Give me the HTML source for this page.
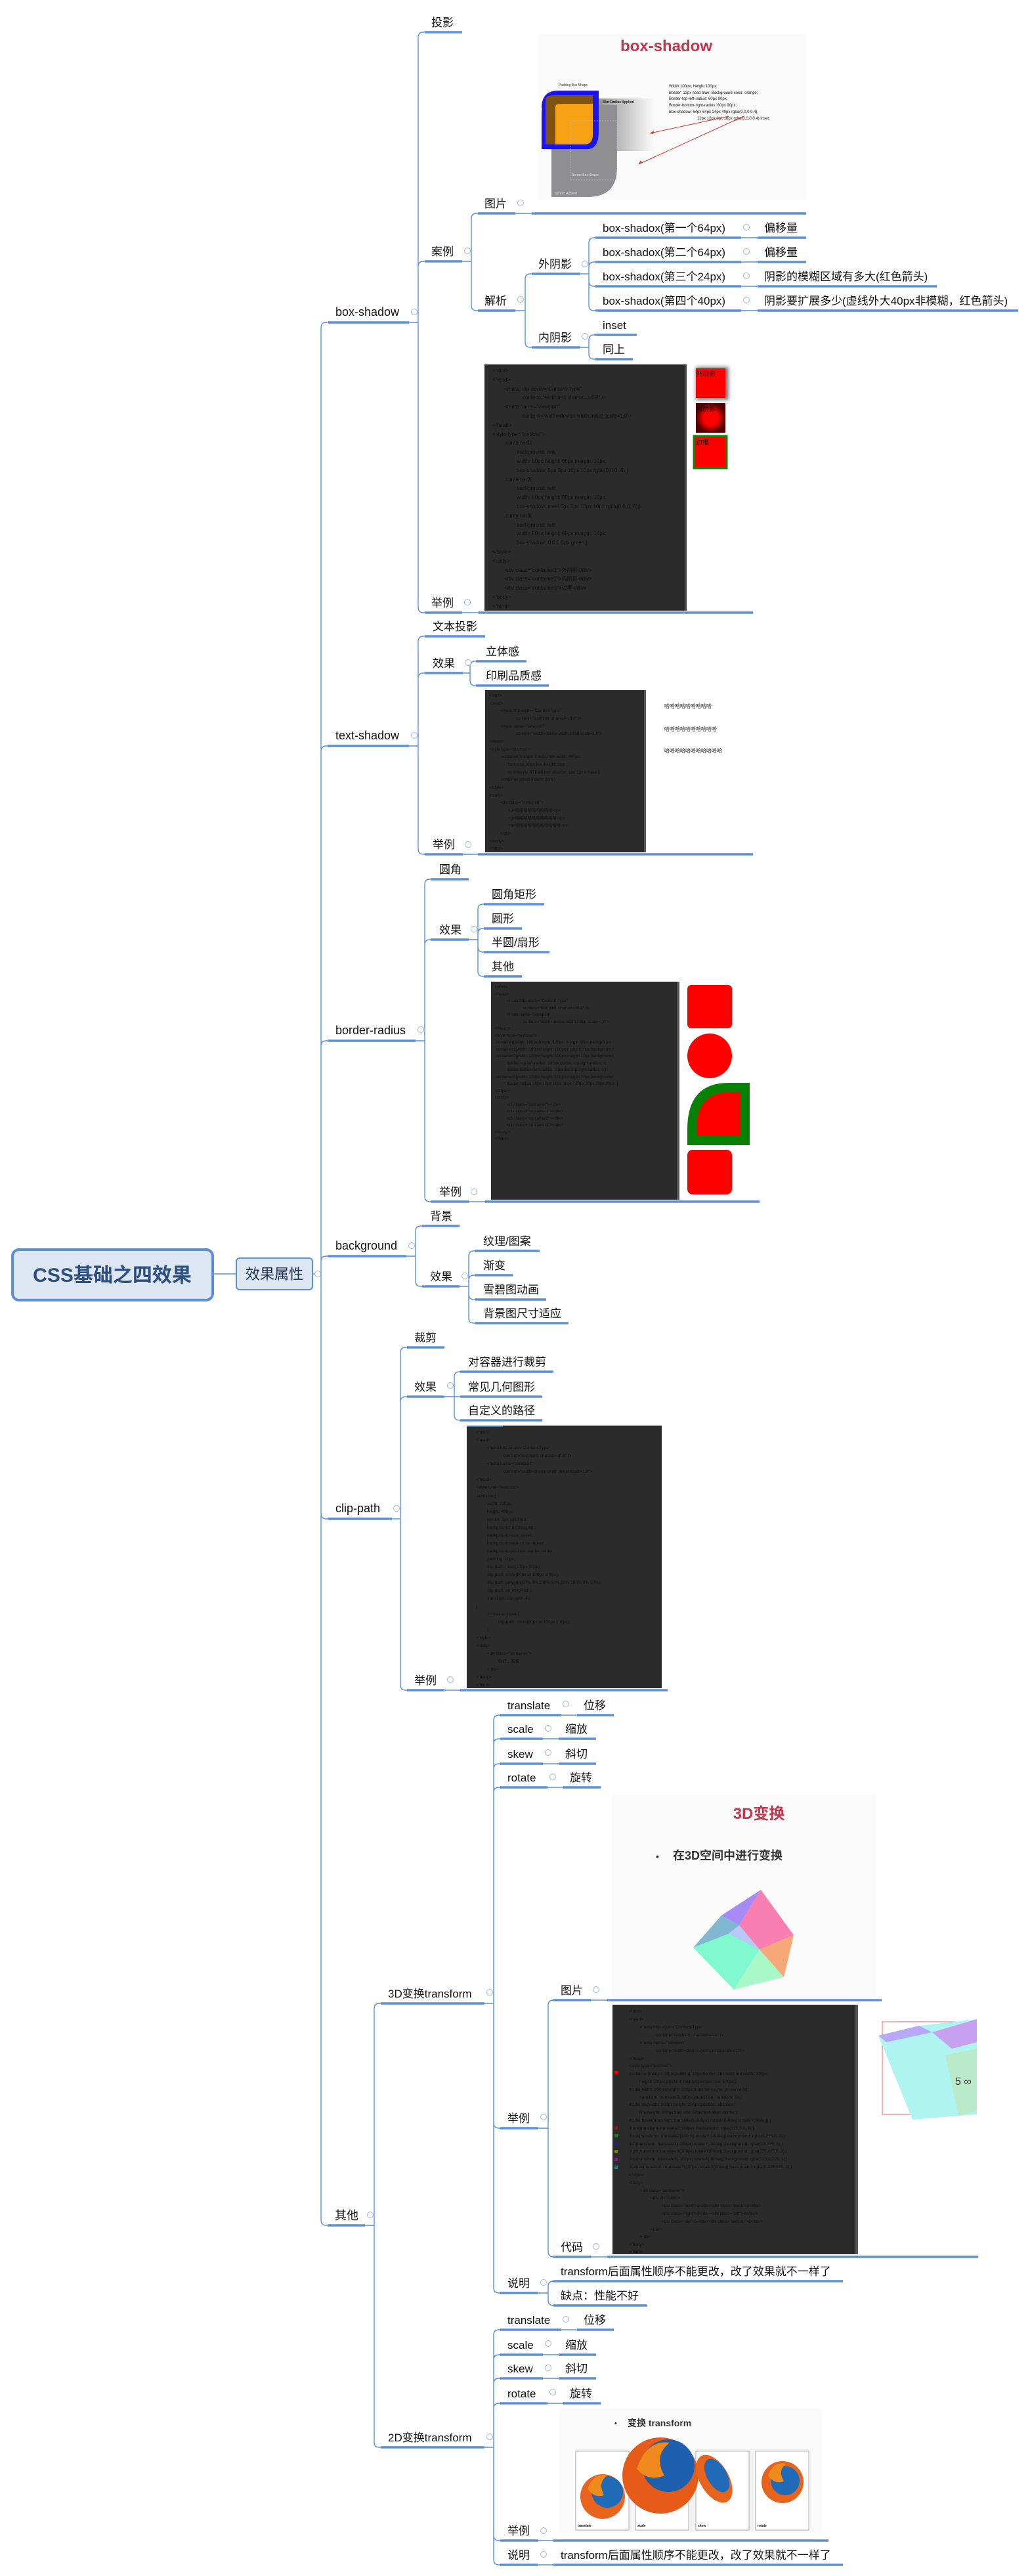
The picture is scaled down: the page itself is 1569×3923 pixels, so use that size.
<!DOCTYPE html>
<html><head><meta charset="utf-8">
<style>
html,body{margin:0;padding:0;background:#fff;}
svg{display:block;}
text{font-family:"Liberation Sans","Noto Sans CJK SC",sans-serif;fill:#111;}
.n{font-size:17px;}
.m{font-size:18px;}
.c{font-family:"Liberation Mono","Noto Sans CJK SC",monospace;fill:#b9ae8c;}
.ul{stroke:#5b8fd6;stroke-width:3.5;fill:none;}
.cn{stroke:#5b8fd6;stroke-width:1.4;fill:none;}
.ic{fill:#fff;stroke:#9db6df;stroke-width:1;}
</style></head>
<body>
<svg width="1569" height="3923" viewBox="0 0 1569 3923" xmlns="http://www.w3.org/2000/svg">

<!-- ROOT -->
<rect x="19" y="1903" width="305" height="77" rx="10" fill="#dde6f3" stroke="#5b8fd6" stroke-width="4"/>
<text x="171" y="1952" text-anchor="middle" style="font-size:30px;font-weight:bold;fill:#2d4f7f">CSS基础之四效果</text>
<rect x="360" y="1916" width="116" height="48" rx="5" fill="#dde6f3" stroke="#5b8fd6" stroke-width="2"/>
<text x="418" y="1948" text-anchor="middle" style="font-size:22px;fill:#1d2f4f">效果属性</text>

<!-- CONNECTORS -->
<g class="cn">
<path d="M325 1940H360M476 1940H489"/>
<!-- main -->
<path d="M489 1940V499Q489 491 497 491H499M489 1940V1144Q489 1136 497 1136H499M489 1940V1593Q489 1585 497 1585H499M489 1940V1921Q489 1913 497 1913H499M489 1940V2305Q489 2313 497 2313H499M489 1940V3381Q489 3389 497 3389H499"/>
<!-- box-shadow -->
<path d="M623 491H637V57Q637 49 645 49H647M637 491V406Q637 398 645 398H647M637 491V925Q637 933 645 933H647"/>
<path d="M704 398H718V333Q718 325 726 325H728M718 398V465Q718 473 726 473H728"/>
<path d="M785 473H800V425Q800 417 808 417H810M800 473V521Q800 529 808 529H810"/>
<path d="M884 417H897V370Q897 362 905 362H907M897 417V407Q897 399 905 399H907M897 417V428Q897 436 905 436H907M897 417V465Q897 473 905 473H907"/>
<path d="M884 529H897V518Q897 510 905 510H907M897 529V539Q897 547 905 547H907"/>
<path d="M1129 362H1154M1129 399H1154M1129 436H1154M1129 473H1154M785 325H810M704 933H729"/>
<!-- text-shadow -->
<path d="M623 1136H637V977Q637 969 645 969H647M637 1136V1033Q637 1025 645 1025H647M637 1136V1293Q637 1301 645 1301H647"/>
<path d="M705 1025H716V1015Q716 1007 724 1007H725M716 1025V1036Q716 1044 724 1044H725M705 1301H728"/>
<!-- border-radius -->
<path d="M633 1585H647V1347Q647 1339 655 1339H656M647 1585V1439Q647 1431 655 1431H656M647 1585V1822Q647 1830 655 1830H656"/>
<path d="M714 1431H728V1385Q728 1377 736 1377H737M728 1431V1422Q728 1414 736 1414H737M728 1431V1442Q728 1450 736 1450H737M728 1431V1479Q728 1487 736 1487H737M714 1830H739"/>
<!-- background -->
<path d="M619 1913H633V1875Q633 1867 641 1867H643M633 1913V1951Q633 1959 641 1959H643"/>
<path d="M700 1959H714V1913Q714 1905 722 1905H724M714 1959V1950Q714 1942 722 1942H724M714 1959V1971Q714 1979 722 1979H724M714 1959V2007Q714 2015 722 2015H724"/>
<!-- clip-path -->
<path d="M597 2313H610V2060Q610 2052 618 2052H620M610 2313V2135Q610 2127 618 2127H620M610 2313V2566Q610 2574 618 2574H620"/>
<path d="M677 2127H692V2097Q692 2089 700 2089H701M677 2127H701M692 2127V2155Q692 2163 700 2163H701M677 2574H701"/>
<!-- 其他 -->
<path d="M556 3389H570V3059Q570 3051 578 3051H580M570 3389V3719Q570 3727 578 3727H580"/>
<path d="M738 3051H752V2620Q752 2612 760 2612H762M752 3051V2656Q752 2648 760 2648H762M752 3051V2694Q752 2686 760 2686H762M752 3051V2730Q752 2722 760 2722H762M752 3051V3233Q752 3241 760 3241H762M752 3051V3484Q752 3492 760 3492H762"/>
<path d="M855 2612H879M827 2648H851M827 2686H851M834 2722H858"/>
<path d="M820 3241H835V3054Q835 3046 843 3046M835 3241V3429Q835 3437 843 3437M900 3046H925M900 3437H925"/>
<path d="M820 3492H835V3482Q835 3474 843 3474M835 3492V3503Q835 3511 843 3511"/>
<path d="M738 3727H752V3556Q752 3548 760 3548H762M752 3727V3594Q752 3586 760 3586H762M752 3727V3630Q752 3622 760 3622H762M752 3727V3668Q752 3660 760 3660H762M752 3727V3861Q752 3869 760 3869H762M752 3727V3898Q752 3906 760 3906H762"/>
<path d="M855 3548H879M827 3586H851M827 3622H851M834 3660H858M820 3869H843M820 3906H843"/>
</g>

<!-- UNDERLINES -->
<g class="ul">
<path d="M500 491H623M647 49H704M647 398H704M647 933H704M729 933H1147M728 325H785M810 325H1228M728 473H785M810 417H884M810 529H884"/>
<path d="M907 362H1129M907 399H1129M907 436H1129M907 473H1129M1154 362H1228M1154 399H1228M1154 436H1427M1154 473H1551M907 510H970M907 547H964"/>
<path d="M499 1136H623M647 969H739M647 1025H705M725 1007H802M725 1044H836M647 1301H705M728 1301H1147"/>
<path d="M499 1585H633M656 1339H714M656 1431H714M737 1377H829M737 1414H795M737 1450H837M737 1487H795M656 1830H714M739 1830H1157"/>
<path d="M499 1913H619M643 1867H700M643 1959H700M724 1905H822M724 1942H781M724 1979H832M724 2015H866"/>
<path d="M499 2313H597M620 2052H677M620 2127H677M620 2574H677M701 2574H1017M701 2089H843M701 2127H826M701 2163H826"/>
<path d="M499 3389H556M580 3051H738M580 3727H738"/>
<path d="M762 2612H855M879 2612H935M762 2648H827M851 2648H908M762 2686H827M851 2686H908M762 2722H834M858 2722H915"/>
<path d="M762 3241H820M843 3046H900M925 3046H1343M843 3437H900M925 3437H1490M762 3492H820M843 3474H1284M843 3511H986"/>
<path d="M762 3548H855M879 3548H935M762 3586H827M851 3586H908M762 3622H827M851 3622H908M762 3660H834M858 3660H915M762 3869H820M843 3869H1262M762 3906H820M843 3906H1284"/>
</g>

<!-- COLLAPSE ICONS -->
<g class="ic">
<circle cx="484" cy="1940" r="4.5"/><circle cx="631" cy="475" r="4.5"/><circle cx="712" cy="382" r="4.5"/><circle cx="793" cy="309" r="4.5"/><circle cx="793" cy="456" r="4.5"/><circle cx="891" cy="402" r="4.5"/><circle cx="891" cy="512" r="4.5"/>
<circle cx="1137" cy="346" r="4.5"/><circle cx="1137" cy="383" r="4.5"/><circle cx="1137" cy="420" r="4.5"/><circle cx="1137" cy="457" r="4.5"/><circle cx="712" cy="917" r="4.5"/>
<circle cx="631" cy="1120" r="4.5"/><circle cx="713" cy="1009" r="4.5"/><circle cx="713" cy="1286" r="4.5"/>
<circle cx="641" cy="1568" r="4.5"/><circle cx="722" cy="1415" r="4.5"/><circle cx="722" cy="1815" r="4.5"/>
<circle cx="627" cy="1897" r="4.5"/><circle cx="708" cy="1943" r="4.5"/>
<circle cx="604" cy="2297" r="4.5"/><circle cx="686" cy="2110" r="4.5"/><circle cx="686" cy="2558" r="4.5"/>
<circle cx="564" cy="3373" r="4.5"/><circle cx="746" cy="3034" r="4.5"/><circle cx="862" cy="2595" r="4.5"/><circle cx="835" cy="2632" r="4.5"/><circle cx="835" cy="2669" r="4.5"/><circle cx="842" cy="2706" r="4.5"/>
<circle cx="908" cy="3030" r="4.5"/><circle cx="828" cy="3224" r="4.5"/><circle cx="908" cy="3421" r="4.5"/><circle cx="828" cy="3476" r="4.5"/>
<circle cx="746" cy="3711" r="4.5"/><circle cx="862" cy="3532" r="4.5"/><circle cx="835" cy="3569" r="4.5"/><circle cx="835" cy="3606" r="4.5"/><circle cx="842" cy="3643" r="4.5"/><circle cx="828" cy="3854" r="4.5"/><circle cx="828" cy="3890" r="4.5"/>
</g>

<!-- LABELS -->
<text class="m" x="511" y="481">box-shadow</text>
<text class="n" x="657" y="40">投影</text>
<text class="n" x="657" y="389">案例</text>
<text class="n" x="657" y="924">举例</text>
<text class="n" x="738" y="316">图片</text>
<text class="n" x="738" y="464">解析</text>
<text class="n" x="820" y="408">外阴影</text>
<text class="n" x="820" y="520">内阴影</text>
<text class="n" x="918" y="353">box-shadox(第一个64px)</text>
<text class="n" x="918" y="390">box-shadox(第二个64px)</text>
<text class="n" x="918" y="427">box-shadox(第三个24px)</text>
<text class="n" x="918" y="464">box-shadox(第四个40px)</text>
<text class="n" x="1164" y="353">偏移量</text>
<text class="n" x="1164" y="390">偏移量</text>
<text class="n" x="1164" y="427">阴影的模糊区域有多大(红色箭头)</text>
<text class="n" x="1164" y="464">阴影要扩展多少(虚线外大40px非模糊，红色箭头)</text>
<text class="n" x="918" y="501">inset</text>
<text class="n" x="918" y="538">同上</text>

<text class="m" x="511" y="1126">text-shadow</text>
<text class="n" x="659" y="960">文本投影</text>
<text class="n" x="659" y="1016">效果</text>
<text class="n" x="740" y="998">立体感</text>
<text class="n" x="740" y="1035">印刷品质感</text>
<text class="n" x="659" y="1292">举例</text>

<text class="m" x="511" y="1575">border-radius</text>
<text class="n" x="669" y="1330">圆角</text>
<text class="n" x="669" y="1422">效果</text>
<text class="n" x="749" y="1368">圆角矩形</text>
<text class="n" x="749" y="1405">圆形</text>
<text class="n" x="749" y="1441">半圆/扇形</text>
<text class="n" x="749" y="1478">其他</text>
<text class="n" x="669" y="1821">举例</text>

<text class="m" x="511" y="1903">background</text>
<text class="n" x="655" y="1858">背景</text>
<text class="n" x="655" y="1950">效果</text>
<text class="n" x="736" y="1896">纹理/图案</text>
<text class="n" x="736" y="1933">渐变</text>
<text class="n" x="736" y="1970">雪碧图动画</text>
<text class="n" x="736" y="2006">背景图尺寸适应</text>

<text class="m" x="511" y="2303">clip-path</text>
<text class="n" x="631" y="2043">裁剪</text>
<text class="n" x="631" y="2118">效果</text>
<text class="n" x="713" y="2080">对容器进行裁剪</text>
<text class="n" x="713" y="2118">常见几何图形</text>
<text class="n" x="713" y="2154">自定义的路径</text>
<text class="n" x="631" y="2565">举例</text>

<text class="m" x="510" y="3380">其他</text>
<text class="n" x="591" y="3042">3D变换transform</text>
<text class="n" x="773" y="2603">translate</text><text class="n" x="889" y="2603">位移</text>
<text class="n" x="773" y="2639">scale</text><text class="n" x="861" y="2639">缩放</text>
<text class="n" x="773" y="2677">skew</text><text class="n" x="861" y="2677">斜切</text>
<text class="n" x="773" y="2713">rotate</text><text class="n" x="868" y="2713">旋转</text>
<text class="n" x="773" y="3232">举例</text>
<text class="n" x="854" y="3037">图片</text>
<text class="n" x="854" y="3428">代码</text>
<text class="n" x="773" y="3483">说明</text>
<text class="n" x="854" y="3465">transform后面属性顺序不能更改，改了效果就不一样了</text>
<text class="n" x="854" y="3502">缺点：性能不好</text>
<text class="n" x="591" y="3718">2D变换transform</text>
<text class="n" x="773" y="3539">translate</text><text class="n" x="889" y="3539">位移</text>
<text class="n" x="773" y="3577">scale</text><text class="n" x="861" y="3577">缩放</text>
<text class="n" x="773" y="3613">skew</text><text class="n" x="861" y="3613">斜切</text>
<text class="n" x="773" y="3651">rotate</text><text class="n" x="868" y="3651">旋转</text>
<text class="n" x="773" y="3860">举例</text>
<text class="n" x="773" y="3897">说明</text>
<text class="n" x="854" y="3897">transform后面属性顺序不能更改，改了效果就不一样了</text>

<!-- BOX-SHADOW IMAGE -->
<rect x="820" y="52" width="408" height="252" fill="#fafafa"/>
<text x="1015" y="78" text-anchor="middle" style="font-size:24px;font-weight:bold;fill:#c0384e">box-shadow</text>
<defs><linearGradient id="bl" x1="0" x2="1"><stop offset="0" stop-color="#8e8e8e"/><stop offset="1" stop-color="#fafafa"/></linearGradient></defs>
<rect x="905" y="150" width="91" height="80" fill="url(#bl)"/>
<path d="M840 160H940V255Q940 300 895 300H840Z" fill="#8f8e90"/>
<path d="M837 150Q825 150 825 175V227H895Q912 227 912 200V138H850Q825 138 825 165Z" fill="#1c14f0"/>
<path d="M831 152Q831 145 845 145H903V205Q903 220 890 220H831Z" fill="#7e5210"/>
<path d="M846 162Q846 158 858 158H903V205Q903 220 890 220H846Z" fill="#f6a214"/>
<rect x="869" y="184" width="70" height="90" fill="none" stroke="#bbb" stroke-dasharray="2 2" stroke-width="0.8"/>
<text x="851" y="131" style="font-size:5px;fill:#333">Padding Box Shape</text>
<text x="918" y="157" style="font-size:5px;fill:#222;font-weight:bold">Blur Radius Applied</text>
<text x="871" y="268" style="font-size:5px;fill:#ddd">Border Box Shape</text>
<text x="845" y="296" style="font-size:5px;fill:#ddd">Spread Applied</text>
<g style="font-size:6px;fill:#444">
<text x="1019" y="133">Width:100px; Height:100px;</text>
<text x="1019" y="143">Border: 12px solid blue; Background-color: orange;</text>
<text x="1019" y="152">Border-top-left-radius: 60px 90px;</text>
<text x="1019" y="162">Border-bottom-right-radius: 60px 90px;</text>
<text x="1019" y="172">Box-shadow: 64px 64px 24px 40px rgba(0,0,0,0.4),</text>
<text x="1062" y="182">12px 12px 0px 18px rgba(0,0,0,0.4) inset;</text>
</g>
<path d="M1110 177L990 203M1133 177L973 250" stroke="#e03020" stroke-width="1"/>
<path d="M990 203l6 -4l-1 5zM973 250l3 -6l2 4z" fill="#e03020"/>

<!-- BOX-SHADOW CODE -->
<rect x="738" y="555" width="308" height="375" fill="#2b2b2b"/>
<rect x="1043" y="555" width="3" height="375" fill="#444"/>
<g class="c" style="font-size:8px">
<text x="750" y="567">&lt;html&gt;</text><text x="750" y="581">&lt;head&gt;</text>
<text x="768" y="595">&lt;meta http-equiv="Content-Type"</text><text x="796" y="608">content="text/html; charset=utf-8" /&gt;</text>
<text x="768" y="622">&lt;meta name="viewport"</text><text x="796" y="636">content="width=device-width,initial-scale=1.0"&gt;</text>
<text x="750" y="650">&lt;/head&gt;</text><text x="750" y="664">&lt;style type="text/css"&gt;</text>
<text x="768" y="677">.container1{</text><text x="787" y="691">background: red;</text><text x="787" y="705">width: 60px;height: 60px;margin: 10px;</text><text x="787" y="719">box-shadow: 5px 5px 10px 10px rgba(0,0,0,.6);}</text>
<text x="768" y="733">.container2{</text><text x="787" y="746">background: red;</text><text x="787" y="760">width: 60px;height: 60px;margin: 10px;</text><text x="787" y="774">box-shadow: inset 5px 5px 10px 10px rgba(0,0,0,.6);}</text>
<text x="768" y="788">.container3{</text><text x="787" y="802">background: red;</text><text x="787" y="815">width: 60px;height: 60px;margin: 10px;</text><text x="787" y="829">box-shadow: 0 0 0 5px green;}</text>
<text x="750" y="843">&lt;/style&gt;</text><text x="750" y="857">&lt;body&gt;</text>
<text x="768" y="871">&lt;div class="container1"&gt;外阴影&lt;/div&gt;</text><text x="768" y="884">&lt;div class="container2"&gt;内阴影&lt;/div&gt;</text><text x="768" y="898">&lt;div class="container3"&gt;边框&lt;/div&gt;</text>
<text x="750" y="912">&lt;/body&gt;</text><text x="750" y="926">&lt;/html&gt;</text>
</g>
<defs>
<filter id="sh" x="-40%" y="-40%" width="180%" height="180%"><feGaussianBlur stdDeviation="3"/></filter>
<radialGradient id="ins"><stop offset="0.5" stop-color="#ff0000"/><stop offset="1" stop-color="#500000"/></radialGradient>
</defs>
<rect x="1060" y="559" width="50" height="50" fill="#777" filter="url(#sh)"/>
<rect x="1060" y="561" width="45" height="45" fill="#f00"/>
<rect x="1060" y="614" width="45" height="45" fill="url(#ins)"/>
<rect x="1057" y="664" width="50" height="49" fill="#f00" stroke="#0a8a0a" stroke-width="3"/>
<g style="font-size:10px"><text x="1060" y="573">外阴影</text><text x="1060" y="626">内阴影</text><text x="1060" y="677">边框</text></g>

<!-- TEXT-SHADOW CODE -->
<rect x="739" y="1051" width="245" height="247" fill="#2b2b2b"/>
<rect x="981" y="1051" width="3" height="247" fill="#555"/>
<rect x="984" y="1051" width="154" height="247" fill="#fff"/>
<g class="c" style="font-size:6.3px">
<text x="745" y="1061">&lt;html&gt;</text><text x="745" y="1073">&lt;head&gt;</text>
<text x="762" y="1084">&lt;meta http-equiv="Content-Type"</text><text x="786" y="1096">content="text/html; charset=utf-8" /&gt;</text>
<text x="762" y="1108">&lt;meta name="viewport"</text><text x="786" y="1119">content="width=device-width,initial-scale=1.0"&gt;</text>
<text x="745" y="1131">&lt;/head&gt;</text><text x="745" y="1143">&lt;style type="text/css"&gt;</text>
<text x="762" y="1154">.container{margin: 0 auto;max-width: 400px;</text><text x="774" y="1166">font-size: 18px;line-height: 2em;</text>
<text x="774" y="1178">font-family: STKaiti;text-shadow: 1px 1px 0 #aaa;}</text><text x="762" y="1189">.container p{text-indent: 2em;}</text>
<text x="745" y="1201">&lt;/style&gt;</text><text x="745" y="1213">&lt;body&gt;</text>
<text x="762" y="1224">&lt;div class="container"&gt;</text><text x="774" y="1236">&lt;p&gt;哈哈哈哈哈哈哈哈哈&lt;/p&gt;</text>
<text x="774" y="1248">&lt;p&gt;哈哈哈哈哈哈哈哈哈哈&lt;/p&gt;</text><text x="774" y="1259">&lt;p&gt;哈哈哈哈哈哈哈哈哈哈哈&lt;/p&gt;</text>
<text x="762" y="1271">&lt;/div&gt;</text><text x="745" y="1283">&lt;/body&gt;</text><text x="745" y="1294">&lt;/html&gt;</text>
</g>
<g style="font-size:8px;fill:#666">
<text x="1012" y="1078">哈哈哈哈哈哈哈哈哈</text><text x="1012" y="1113">哈哈哈哈哈哈哈哈哈哈</text><text x="1012" y="1146">哈哈哈哈哈哈哈哈哈哈哈</text>
</g>

<!-- BORDER-RADIUS CODE -->
<rect x="748" y="1495" width="287" height="332" fill="#2b2b2b"/>
<rect x="1031" y="1495" width="4" height="332" fill="#555"/>
<g class="c" style="font-size:6.3px">
<text x="754" y="1505">&lt;html&gt;</text><text x="754" y="1516">&lt;head&gt;</text>
<text x="772" y="1526">&lt;meta http-equiv="Content-Type"</text><text x="797" y="1537">content="text/html; charset=utf-8" /&gt;</text>
<text x="772" y="1547">&lt;meta name="viewport"</text><text x="797" y="1558">content="width=device-width,initial-scale=1.0"&gt;</text>
<text x="754" y="1568">&lt;/head&gt;</text><text x="754" y="1579">&lt;style type="text/css"&gt;</text>
<text x="754" y="1589">.container{width: 100px;height: 100px; margin:10px;background:</text>
<text x="754" y="1600">.container1{width: 100px;height: 100px;margin:10px;background:</text>
<text x="754" y="1610">.container2{width: 100px;height: 100px;margin:10px;background:</text>
<text x="772" y="1621">border-top-left-radius: 100px;border-top-right-radius: 0;</text>
<text x="772" y="1631">border-bottom-left-radius: 0;border-top-right-radius: 0;}</text>
<text x="754" y="1642">.container3{width: 100px;height: 100px;margin:10px;background:</text>
<text x="772" y="1652">border-radius:10px 10px 10px 10px / 20px 20px 20px 20px ;}</text>
<text x="754" y="1663">&lt;/style&gt;</text><text x="754" y="1673">&lt;body&gt;</text>
<text x="772" y="1684">&lt;div class="container"&gt;&lt;/div&gt;</text><text x="772" y="1694">&lt;div class="container1"&gt;&lt;/div&gt;</text>
<text x="772" y="1705">&lt;div class="container2"&gt;&lt;/div&gt;</text><text x="772" y="1715">&lt;div class="container3"&gt;&lt;/div&gt;</text>
<text x="754" y="1726">&lt;/body&gt;</text><text x="754" y="1736">&lt;/html&gt;</text>
</g>
<rect x="1047" y="1500" width="68" height="66" rx="6" fill="#f00"/>
<ellipse cx="1081" cy="1608" rx="34" ry="34" fill="#f00"/>
<path d="M1047 1744V1720Q1047 1649 1110 1649H1142V1744Z" fill="#078207"/>
<path d="M1061 1730V1718Q1061 1663 1115 1663H1128V1730Z" fill="#f00"/>
<rect x="1047" y="1751" width="68" height="68" rx="8" fill="#f00"/>

<!-- CLIP-PATH CODE -->
<rect x="711" y="2171" width="297" height="400" fill="#2b2b2b"/>
<rect x="711" y="2171" width="55" height="2" fill="#3d7eb0"/>
<g class="c" style="font-size:6.5px">
<text x="725" y="2183">&lt;html&gt;</text><text x="725" y="2195">&lt;head&gt;</text>
<text x="742" y="2207">&lt;meta http-equiv="Content-Type"</text><text x="767" y="2219">content="text/html; charset=utf-8" /&gt;</text>
<text x="742" y="2231">&lt;meta name="viewport"</text><text x="767" y="2243">content="width=device-width,initial-scale=1.0"&gt;</text>
<text x="725" y="2255">&lt;/head&gt;</text><text x="725" y="2267">&lt;style type="text/css"&gt;</text>
<text x="725" y="2280">.container{</text><text x="742" y="2292">width: 730px;</text><text x="742" y="2304">height: 480px;</text><text x="742" y="2316">border: 1px solid red;</text>
<text x="742" y="2328">background: url(dog.png);</text><text x="742" y="2340">background-size: cover;</text><text x="742" y="2352">background-repeat: no-repeat;</text>
<text x="742" y="2364">background-position: center center;</text><text x="742" y="2376">padding: 10px;</text>
<text x="742" y="2388">clip-path: inset(100px 50px);</text><text x="742" y="2400">clip-path: circle(50px at 100px 100px);</text>
<text x="742" y="2412">clip-path: polygon(50% 0%,100% 50%,50% 100%,0% 50%);</text><text x="742" y="2424">clip-path: url(#clipPath);</text>
<text x="742" y="2436">transition: clip-path .4s;</text><text x="725" y="2448">}</text>
<text x="742" y="2460">.container:hover{</text><text x="759" y="2472">clip-path: circle(80px at 100px 100px);</text><text x="742" y="2484">}</text>
<text x="725" y="2496">&lt;/style&gt;</text><text x="725" y="2508">&lt;body&gt;</text><text x="742" y="2520">&lt;div class="container"&gt;</text>
<text x="759" y="2532">你好，狗狗</text><text x="742" y="2544">&lt;/div&gt;</text><text x="725" y="2556">&lt;/body&gt;</text><text x="725" y="2568">&lt;/html&gt;</text>
</g>

<!-- 3D IMAGE -->
<rect x="933" y="2733" width="401" height="311" fill="#fafafa"/>
<text x="1156" y="2770" text-anchor="middle" style="font-size:24px;font-weight:bold;fill:#c0384e">3D变换</text>
<text x="999" y="2832" style="font-size:14px;fill:#222">•</text>
<text x="1025" y="2832" style="font-size:18px;font-weight:bold;fill:#333">在3D空间中进行变换</text>
<polygon points="1099,2917 1159,2878 1126,2932" fill="#a78af5"/>
<polygon points="1126,2932 1159,2878 1209,2947 1157,2969" fill="#f87fb0"/>
<polygon points="1056,2966 1099,2917 1126,2932 1110,2945" fill="#7fb8d0"/>
<polygon points="1110,2945 1126,2932 1157,2969 1140,2962" fill="#b8c8f8"/>
<polygon points="1056,2966 1110,2945 1157,2969 1118,3030" fill="#80f8d0"/>
<polygon points="1157,2969 1194,3011 1118,3030" fill="#a8f8c8"/>
<polygon points="1157,2969 1209,2947 1194,3011" fill="#f8a878"/>

<!-- 3D CODE -->
<rect x="933" y="3053" width="374" height="380" fill="#2b2b2b"/>
<rect x="1303" y="3053" width="4" height="380" fill="#555"/>
<g class="c" style="font-size:6.5px">
<text x="958" y="3065">&lt;html&gt;</text><text x="958" y="3077">&lt;head&gt;</text>
<text x="975" y="3089">&lt;meta http-equiv="Content-Type"</text><text x="999" y="3101">content="text/html; charset=utf-8" /&gt;</text>
<text x="975" y="3113">&lt;meta name="viewport"</text><text x="999" y="3125">content="width=device-width,initial-scale=1.0"&gt;</text>
<text x="958" y="3137">&lt;/head&gt;</text><text x="958" y="3148">&lt;style type="text/css"&gt;</text>
<text x="958" y="3160">.container{margin: 50px;padding: 10px;border: 1px solid red;width: 200px;</text>
<text x="974" y="3172">height: 200px;position: relative;perspective: 500px;}</text>
<text x="958" y="3184">#cube{width: 200px;height: 200px;transform-style: preserve-3d;</text>
<text x="974" y="3196">transform: translateZ(-100px);transition: transform 1s;}</text>
<text x="958" y="3207">#cube div{width: 200px;height: 200px;position: absolute;</text>
<text x="974" y="3219">line-height: 200px;font-size: 50px;text-align: center;}</text>
<text x="958" y="3231">#cube:hover{transform: translateZ(-100px) rotateX(90deg) rotateY(90deg);}</text>
<text x="958" y="3243">.front{transform: translateZ(100px); background: rgba(225,0,0,.3);}</text>
<text x="958" y="3255">.back{transform: translateZ(100px) rotateY(180deg);background: rgba(0,225,0,.3);}</text>
<text x="958" y="3267">.left{transform: translateX(-100px) rotateY(-90deg);background: rgba(0,0,225,.3);}</text>
<text x="958" y="3278">.right{transform: translateX(100px) rotateY(90deg);background: rgba(225,225,0,.3);}</text>
<text x="958" y="3290">.top{transform: translateY(-100px) rotateX(-90deg);background: rgba(225,0,225,.3);}</text>
<text x="958" y="3302">.bottom{transform: translateY(100px) rotateX(90deg);background: rgba(0,225,225,.3);}</text>
<text x="958" y="3314">&lt;/style&gt;</text><text x="958" y="3326">&lt;body&gt;</text>
<text x="975" y="3338">&lt;div class="container"&gt;</text><text x="991" y="3349">&lt;div id="cube"&gt;</text>
<text x="1008" y="3361">&lt;div class="front"&gt;1&lt;/div&gt;&lt;div class="back"&gt;2&lt;/div&gt;</text>
<text x="1008" y="3373">&lt;div class="right"&gt;3&lt;/div&gt;&lt;div class="left"&gt;4&lt;/div&gt;</text>
<text x="1008" y="3385">&lt;div class="top"&gt;5&lt;/div&gt;&lt;div class="bottom"&gt;6&lt;/div&gt;</text>
<text x="991" y="3397">&lt;/div&gt;</text><text x="975" y="3408">&lt;/div&gt;</text><text x="958" y="3420">&lt;/body&gt;</text><text x="958" y="3431">&lt;/html&gt;</text>
</g>
<rect x="936" y="3154" width="5" height="5" fill="#e00"/><rect x="936" y="3238" width="5" height="5" fill="#722"/><rect x="936" y="3250" width="5" height="5" fill="#272"/><rect x="936" y="3262" width="5" height="5" fill="#227"/><rect x="936" y="3274" width="5" height="5" fill="#772"/><rect x="936" y="3286" width="5" height="5" fill="#727"/><rect x="936" y="3298" width="5" height="5" fill="#277"/>

<!-- side cube -->
<rect x="1344" y="3079" width="140" height="141" fill="none" stroke="#e66" stroke-width="1"/>
<polygon points="1338,3100 1400,3085 1488,3075 1488,3220 1390,3228" fill="#b0f4f2"/>
<polygon points="1338,3100 1400,3085 1420,3095 1350,3110" fill="#b8a8f8"/>
<polygon points="1420,3095 1488,3075 1488,3110 1450,3120" fill="#c8a0f0"/>
<polygon points="1440,3130 1488,3120 1488,3215 1460,3222" fill="#bce8c0" opacity="0.8"/>
<text x="1455" y="3175" style="font-size:16px;fill:#333">5 ∞</text>

<!-- 2D IMAGE -->
<rect x="853" y="3668" width="399" height="190" fill="#fafafa"/>
<text x="936" y="3694" style="font-size:11px;fill:#222">•</text>
<text x="956" y="3695" style="font-size:14px;font-weight:bold;fill:#333">变换 transform</text>
<rect x="876" y="3730" width="357" height="125" fill="#f3f3f3"/>
<g fill="#fff" stroke="#999" stroke-width="0.8">
<rect x="877" y="3733" width="81" height="120"/><rect x="968" y="3733" width="81" height="120"/><rect x="1060" y="3733" width="81" height="120"/><rect x="1151" y="3733" width="81" height="120"/>
</g>
<circle cx="918" cy="3802" r="34" fill="#e8631c"/><circle cx="925" cy="3795" r="24" fill="#1f6bb8"/><path d="M895 3790q10 -25 30 -20q-15 10 -5 30q-15 5 -25 -10z" fill="#f08a1c"/>
<circle cx="1006" cy="3770" r="58" fill="#e55b17"/><circle cx="1018" cy="3755" r="40" fill="#1e5fae"/><path d="M970 3760q15 -45 50 -40q-25 20 -8 50q-25 10 -42 -10z" fill="#f08a1c"/>
<ellipse cx="1088" cy="3775" rx="22" ry="40" transform="rotate(-30 1088 3775)" fill="#e8631c"/><ellipse cx="1092" cy="3770" rx="15" ry="28" transform="rotate(-30 1092 3770)" fill="#1f6bb8"/>
<circle cx="1192" cy="3780" r="32" fill="#e8631c"/><circle cx="1196" cy="3778" r="22" fill="#1f6bb8"/><path d="M1170 3770q8 -22 28 -18q-14 9 -4 27q-14 5 -24 -9z" fill="#f08a1c"/>
<g style="font-size:5px;fill:#333;font-weight:bold"><text x="880" y="3848">translate</text><text x="971" y="3848">scale</text><text x="1063" y="3848">skew</text><text x="1154" y="3848">rotate</text></g>

</svg>
</body></html>
